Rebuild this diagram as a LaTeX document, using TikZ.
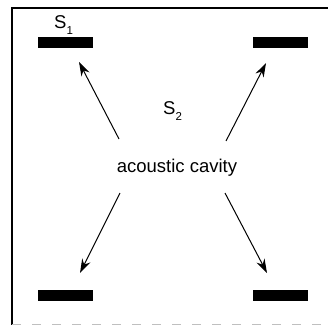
\documentclass[tikz,border=0pt]{standalone}
\usepackage{fontspec}
\setmainfont{Liberation Sans}
\usetikzlibrary{arrows.meta}
\tikzset{
  bar/.style={fill=black, draw=none, minimum width=55pt, minimum height=11pt, inner sep=0pt},
  lbl/.style={inner sep=0pt, font=\fontsize{18.5}{21}\selectfont},
  arr/.style={line width=1pt, -{Stealth[length=14pt,width=9pt]}},
  frame/.style={line width=1.2pt, black},
  gframe/.style={line width=1.2pt, black!25, dash pattern=on 9pt off 11pt}
}
\newcommand{\subs}[1]{\raisebox{-6pt}{\fontsize{11.5}{12}\selectfont #1}}
\begin{document}
\begin{tikzpicture}[x=1pt,y=-1pt]
\useasboundingbox (0,0) rectangle (328,326);
% frame
\coordinate (tl) at (12,8);
\coordinate (tr) at (328,8);
\coordinate (bl) at (12,324.5);
\coordinate (br) at (328,324.5);
\draw[frame] (tr) -- (tl) -- (bl);
\draw[gframe] (bl) -- (br);
% bars
\node[bar] (b1) at (65.5,42.5) {};
\node[bar] (b2) at (280,42.5) {};
\node[bar] (b3) at (65.5,295.5) {};
\node[bar] (b4) at (280,295) {};
% labels
\node[lbl, anchor=base west] (s1) at (54,29) {S\subs{1}};
\node[lbl, anchor=base west] (s2) at (163,114) {S\subs{2}};
\node[lbl, anchor=base] (cav) at (177,172) {acoustic cavity};
% arrow ends
\coordinate (a1s) at (119,139);
\coordinate (a1e) at (79,62);
\coordinate (a2s) at (226,141);
\coordinate (a2e) at (266,63);
\coordinate (a3s) at (120,193);
\coordinate (a3e) at (80,273);
\coordinate (a4s) at (225,193);
\coordinate (a4e) at (267,273);
\draw[arr] (a1s) -- (a1e);
\draw[arr] (a2s) -- (a2e);
\draw[arr] (a3s) -- (a3e);
\draw[arr] (a4s) -- (a4e);
\end{tikzpicture}
\end{document}
